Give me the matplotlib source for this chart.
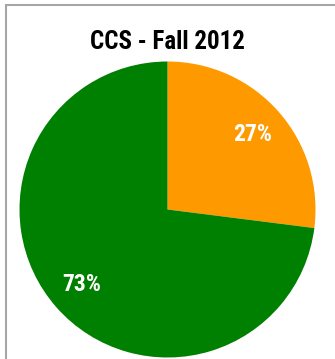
import matplotlib
matplotlib.use("Agg")
import matplotlib.pyplot as plt
from matplotlib.patches import Rectangle

labels = ["Orange", "Green"]
values = [27, 73]
colors = ["#FF9900", "#008000"]
title = "CCS - Fall 2012"

W, H = 335, 359
fig = plt.figure(figsize=(W/100, H/100), dpi=100)
fam = ["Roboto Condensed", "Liberation Sans", "DejaVu Sans"]

# frame border (partially cropped)
fig.patches.append(Rectangle((5.5/W, -0.1), 1.2, 1.1 - 5.5/H, transform=fig.transFigure,
                             fill=False, edgecolor="#A6A6A6", linewidth=1.5))

cx, cy, r = 167.5, 209.5, 148
ax = fig.add_axes([(cx - r)/W, (H - cy - r)/H, 2*r/W, 2*r/H])
wedges, texts, autotexts = ax.pie(values, colors=colors, startangle=90, counterclock=False,
                                  autopct=lambda p: f"{p:.0f}%", pctdistance=0.77,
                                  radius=1, wedgeprops=dict(linewidth=0))
for t in autotexts:
    t.set_color("white")
    t.set_fontsize(17)
    t.set_fontweight("bold")
    t.set_family(fam)
ax.set_xlim(-1, 1)
ax.set_ylim(-1, 1)
ax.set_aspect("equal")
ax.axis("off")

fig.text(cx/W, 1 - 42/H, title, ha="center", va="center", fontsize=18, fontweight="bold", family=fam)
fig.savefig("out.png", dpi=100)
